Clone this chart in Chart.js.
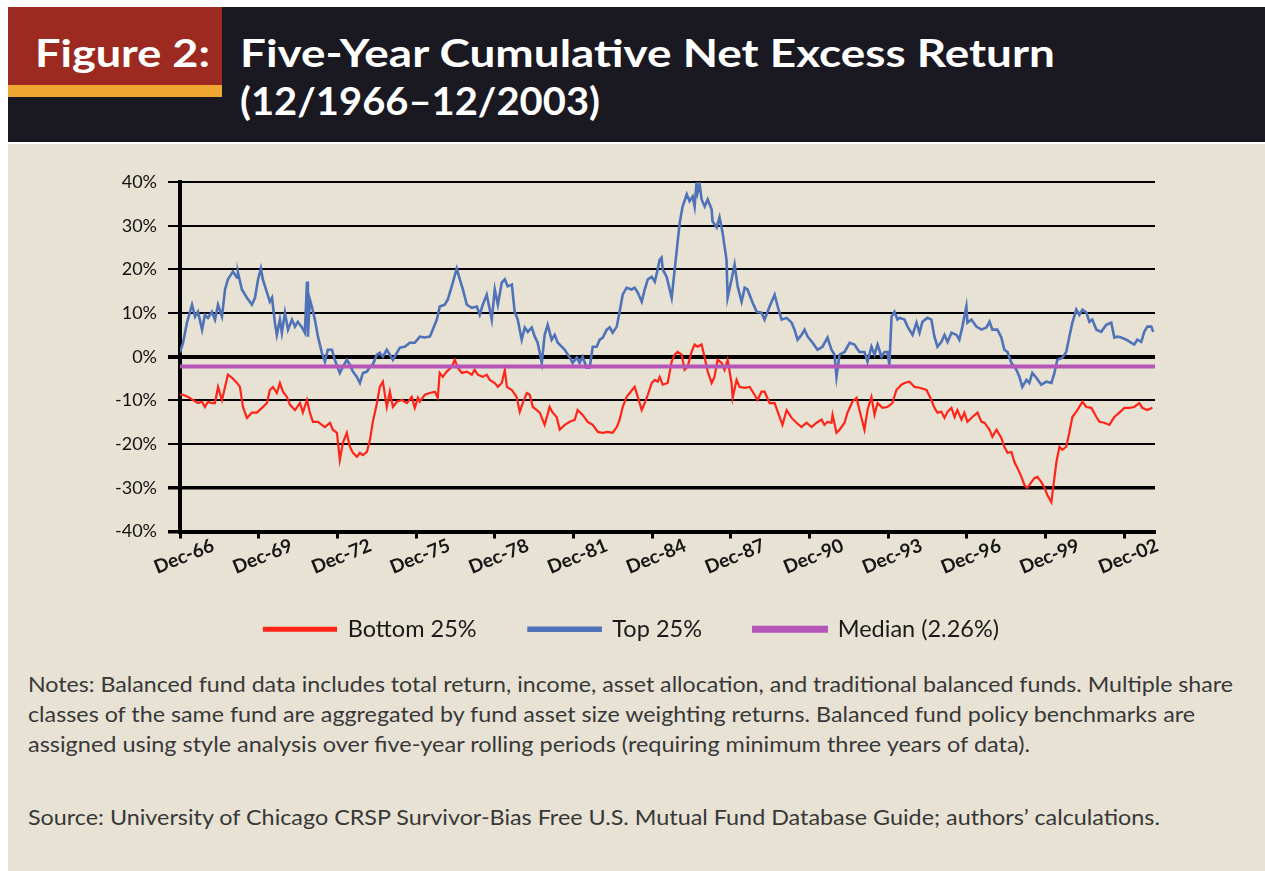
<!DOCTYPE html>
<html>
<head>
<meta charset="utf-8">
<script src="https://cdn.jsdelivr.net/npm/chart.js@4.4.1/dist/chart.umd.min.js"></script>
<style>
  html, body { margin: 0; padding: 0; background: #ffffff; }
  body { width: 1265px; height: 871px; position: relative; overflow: hidden; font-family: Lato, "Open Sans", sans-serif; }
  #bg { position: absolute; left: 8px; top: 144px; width: 1257px; height: 727px; background: rgb(231,226,212); }
  #bar { position: absolute; left: 8px; top: 7px; width: 1257px; height: 135px; background: rgb(26,24,32); }
  #redbox { position: absolute; left: 8px; top: 7px; width: 214px; height: 78px; background: #9c2a20; }
  #orange { position: absolute; left: 8px; top: 85px; width: 214px; height: 12px; background: #f0a832; }
  .t { position: absolute; white-space: nowrap; transform-origin: 0 0; }
  .title { color: #fff; font-weight: 700; font-size: 38px; line-height: 38px; }
  .note { color: #383838; font-size: 21px; line-height: 21px; }
  #chartwrap { position: absolute; left: 0; top: 150px; width: 1265px; height: 501px; }
</style>
</head>
<body>
<div id="bg"></div>
<div id="bar"></div>
<div id="redbox"></div>
<div id="orange"></div>
<div class="t title" style="left:35px; top:33px;" data-w="175">Figure 2:</div>
<div class="t title" style="left:240px; top:33px;" data-w="815">Five-Year Cumulative Net Excess Return</div>
<div class="t title" style="left:240px; top:81px;" data-w="360">(12/1966–12/2003)</div>

<div id="chartwrap"><canvas id="c" width="1265" height="501"></canvas></div>

<div class="t note" style="left:28px; top:673px;" data-w="1205">Notes: Balanced fund data includes total return, income, asset allocation, and traditional balanced funds. Multiple share</div>
<div class="t note" style="left:28px; top:703px;" data-w="1167">classes of the same fund are aggregated by fund asset size weighting returns. Balanced fund policy benchmarks are</div>
<div class="t note" style="left:28px; top:733px;" data-w="1002">assigned using style analysis over five-year rolling periods (requiring minimum three years of data).</div>
<div class="t note" style="left:28px; top:806px;" data-w="1132">Source: University of Chicago CRSP Survivor-Bias Free U.S. Mutual Fund Database Guide; authors’ calculations.</div>

<script>
// ---- Data (months since Dec-1966, values in %) ----
const topMonths = [0,1.4,3.2,5.5,6.9,8.2,10.1,11.4,12.8,14.6,16.0,17.4,19.2,20.6,21.9,24.2,26.1,26.5,28.3,30.6,32.9,34.3,35.7,37.0,37.9,39.8,41.1,42.1,43.4,44.3,45.7,46.6,48.0,49.4,51.2,52.6,53.9,55.8,57.1,58.1,58.5,59.4,60.3,61.7,63.1,64.9,66.3,67.6,69.5,70.8,73.1,74.5,76.3,77.7,79.1,80.9,82.3,83.7,85.5,86.9,88.2,90.1,91.4,92.8,94.6,96.0,97.4,99.2,100.6,102.8,105.1,107.4,109.7,112.0,114.3,115.6,117.5,118.8,121.1,122.5,124.3,126.6,128.0,129.4,131.2,133.5,135.8,137.1,138.5,140.3,141.7,142.6,144.0,145.4,147.2,148.6,149.9,151.8,153.1,154.5,156.3,157.7,159.1,160.9,162.3,163.6,165.5,166.8,168.2,170.0,171.4,172.8,174.6,176.0,178.3,179.6,181.5,182.8,184.2,186.0,187.4,188.8,190.6,192.0,193.4,195.2,196.6,197.9,199.8,201.1,202.5,204.3,206.6,208.0,209.4,211.2,212.6,214.0,215.8,217.2,218.5,219.4,220.3,220.8,222.6,224.9,226.3,227.6,228.6,229.9,231.8,233.1,234.5,235.4,236.3,236.8,237.7,238.6,240.0,241.4,243.2,243.6,245.5,246.8,248.2,250.0,250.5,252.3,253.7,255.1,256.9,258.3,259.6,261.9,263.8,266.0,267.4,269.7,272.0,273.4,275.2,277.5,279.8,281.1,282.5,284.3,285.7,287.1,289.4,291.6,293.9,296.2,298.0,299.4,300.3,301.7,304.0,306.3,308.5,310.8,313.1,314.5,316.3,317.7,319.1,320.9,322.3,323.6,324.5,325.5,326.8,328.2,329.1,331.4,332.8,335.1,336.9,338.3,339.6,341.9,343.7,345.1,346.5,348.3,349.7,351.1,352.9,355.2,356.5,357.9,359.7,360.2,362.0,364.3,366.6,368.9,370.3,371.6,373.9,375.7,377.1,378.5,380.3,382.6,384.0,385.3,387.2,388.5,389.9,391.7,394.0,396.3,398.6,400.0,401.3,403.6,405.4,406.8,408.2,410.0,411.4,412.8,414.6,416.0,417.3,419.2,421.4,423.7,426.0,427.4,428.8,430.6,432.9,435.2,436.5,437.9,439.7,441.1,442.5,444.3,445.2];
const topValues = [1.0,3.2,7.8,11.9,9.2,10.3,6.2,9.6,8.9,10.3,8.5,11.9,9.2,15.4,17.7,19.5,18.1,19.3,15.4,13.5,11.9,13.5,17.7,20.2,17.7,14.7,12.6,13.5,7.8,5.0,8.5,5.5,10.1,6.2,8.5,6.9,8.0,6.7,5.5,17.2,4.6,13.1,11.5,8.5,4.6,0.9,-1.1,1.6,1.6,-0.7,-3.7,-2.3,-0.7,-1.8,-3.4,-4.6,-6.0,-3.7,-3.4,-2.3,-1.8,0.5,0.9,0,1.6,0.5,-0.7,0.9,2.1,2.3,3.2,3.2,4.6,4.4,4.6,6.2,8.5,11.5,11.9,13.1,16.1,20.2,17.7,15.4,11.9,11.2,11.5,9.6,11.9,14.2,10.8,8.5,15.4,11.9,17.0,17.7,16.1,16.5,10.3,8.5,3.9,6.7,5.7,6.7,4.6,3.2,-1.4,5.0,7.3,3.9,5.0,3.2,2.3,1.6,-0.2,-1.4,-0.2,-1.4,0,-2.5,-2.5,2.3,2.3,3.9,4.4,6.2,6.7,5.5,6.9,10.3,14.2,15.8,15.4,15.8,14.7,12.6,15.4,17.7,18.3,17.2,20.0,22.2,22.7,20.0,18.3,13.5,20.0,26.1,30.7,34.4,37.2,35.6,36.7,34.4,39.9,37.6,39.4,36.0,34.4,36.0,33.7,31.0,29.6,31.9,28.4,22.2,13.5,17.7,21.1,16.1,12.6,15.8,15.4,12.4,10.3,10.1,8.5,11.5,14.2,11.5,8.5,8.9,7.8,6.2,3.9,5.0,6.2,4.6,3.2,1.6,2.3,4.4,1.6,0.5,-4.6,0.5,1.1,3.2,2.8,1.1,1.1,-1.1,2.3,0.5,2.8,0,1.1,1.1,-1.8,9.2,10.3,8.5,8.9,8.5,6.9,5.0,7.8,5.5,8.0,8.9,8.5,4.6,2.3,3.4,5.0,3.4,5.5,5.0,3.9,6.9,11.5,7.8,8.5,6.9,6.2,6.7,8.0,6.2,6.2,4.4,1.6,1.1,-1.4,-3.0,-4.6,-6.9,-5.3,-6.0,-3.7,-4.8,-6.4,-5.7,-6.0,-3.7,-0.7,-0.2,1.1,4.6,7.8,10.8,9.6,10.8,10.1,8.0,8.5,6.2,5.7,7.3,7.8,4.4,4.6,4.4,3.9,3.2,2.8,3.9,3.4,5.7,6.9,6.9,5.7];

const bottomMonths = [0,1.4,3.7,5.9,8.2,10.1,11.4,12.8,14.6,16.0,17.4,19.2,20.6,21.9,23.8,26.1,27.4,28.8,30.6,32.9,35.2,37.5,39.8,41.1,42.5,44.3,45.7,47.1,48.9,50.3,52.6,54.9,56.2,58.1,59.4,60.8,63.1,64.9,66.3,68.6,69.9,71.8,73.1,74.5,76.3,77.7,79.1,80.9,82.3,83.7,85.5,86.9,88.2,90.1,91.4,92.8,94.6,96.0,97.4,99.2,101.5,103.8,106.0,107.4,108.8,109.7,112.0,114.3,116.6,117.9,118.8,120.2,122.0,124.3,125.7,127.1,128.9,131.2,133.5,134.8,136.2,138.5,140.3,141.7,144.0,145.4,147.2,148.6,149.5,151.8,154.0,155.4,156.8,158.6,160.0,161.4,163.2,164.6,166.8,169.1,170.5,172.3,173.7,176.0,178.3,180.6,181.9,184.2,186.5,188.8,191.1,193.4,195.6,197.9,199.8,201.1,202.5,204.3,205.7,208.0,209.4,211.2,212.6,214.0,215.8,217.2,218.5,219.4,220.8,223.1,224.9,226.3,227.6,229.5,230.8,232.2,234.0,235.4,236.8,238.6,240.0,241.4,243.2,244.5,245.9,247.8,249.1,250.5,252.3,252.8,254.6,256.0,258.3,260.6,262.8,264.2,266.0,267.4,269.7,272.0,274.3,275.6,277.5,279.8,282.0,284.3,286.6,288.9,291.2,293.5,294.8,296.2,298.0,298.5,300.3,301.7,304.0,305.3,307.6,309.5,310.8,313.1,314.5,316.3,317.7,319.1,321.3,323.6,325.9,327.7,330.0,331.4,333.7,336.0,338.3,341.5,343.7,345.1,346.5,348.3,349.7,351.1,352.9,354.3,355.6,357.5,358.8,360.2,362.5,364.8,366.6,368.0,370.3,371.6,373.5,375.7,377.1,378.5,380.3,381.7,383.1,384.9,386.3,387.6,389.5,390.8,392.2,394.0,395.4,396.8,398.6,399.1,400.9,402.3,403.6,405.4,406.8,408.2,410.5,412.8,414.6,416.9,419.2,420.6,422.8,425.1,427.4,429.7,432.0,434.3,436.5,438.8,440.2,442.5,444.8];
const bottomValues = [-8.7,-8.7,-9.2,-9.9,-10.6,-10.3,-11.5,-10.3,-10.6,-10.6,-6.9,-9.9,-6.9,-4.1,-4.8,-6.0,-6.9,-11.5,-14.0,-12.8,-12.8,-11.7,-10.6,-7.6,-6.9,-8.3,-6.0,-8.0,-9.2,-11.0,-12.2,-10.6,-12.8,-9.9,-12.8,-14.9,-14.9,-15.6,-16.1,-15.1,-16.7,-17.4,-23.6,-19.7,-17.4,-20.6,-22.0,-22.9,-22.0,-22.5,-21.8,-19.0,-14.9,-10.6,-6.9,-5.7,-11.5,-8.0,-11.5,-10.3,-9.9,-10.6,-9.2,-11.7,-9.4,-10.3,-8.7,-8.3,-8.0,-9.4,-3.7,-4.6,-3.4,-2.3,-0.7,-2.5,-3.7,-3.4,-4.1,-3.0,-4.1,-4.6,-4.1,-5.3,-6.0,-6.9,-6.0,-3.0,-6.9,-7.6,-9.2,-12.6,-10.6,-8.3,-8.7,-11.5,-12.2,-12.8,-15.6,-11.5,-12.8,-13.8,-16.7,-15.6,-14.9,-14.4,-12.2,-13.3,-14.9,-15.6,-17.2,-17.4,-17.2,-17.4,-16.1,-14.4,-11.5,-9.2,-8.3,-6.9,-9.2,-12.2,-10.6,-8.7,-6.0,-5.3,-5.7,-4.6,-6.4,-6.0,-1.1,0.5,1.1,0.5,-3.0,-2.3,1.1,2.8,2.3,2.8,-0.2,-3.4,-6.0,-4.6,-0.7,-1.4,-3.0,-0.7,-6.0,-9.4,-5.3,-6.9,-7.1,-6.9,-8.7,-9.9,-8.0,-8.0,-10.6,-10.6,-13.8,-15.6,-12.2,-14.0,-15.1,-16.1,-15.1,-16.1,-15.1,-14.4,-15.6,-14.9,-15.1,-13.3,-17.4,-16.7,-15.1,-12.8,-10.3,-9.4,-12.2,-16.7,-12.2,-9.2,-13.3,-10.6,-11.7,-11.5,-10.6,-7.6,-6.4,-6.0,-5.7,-6.9,-7.1,-7.6,-9.9,-11.7,-12.8,-12.6,-14.0,-12.6,-11.7,-13.8,-12.2,-14.4,-12.8,-14.9,-13.8,-12.8,-14.9,-15.1,-16.7,-18.3,-16.7,-18.6,-20.6,-22.0,-21.8,-24.1,-25.5,-27.5,-29.4,-30.0,-28.7,-27.8,-27.5,-28.7,-30.0,-31.7,-33.3,-31.2,-24.1,-20.6,-21.3,-20.6,-17.4,-13.8,-12.2,-10.3,-11.5,-11.7,-13.8,-14.9,-15.1,-15.6,-13.8,-12.8,-11.7,-11.7,-11.5,-10.6,-11.7,-12.2,-11.7];

const medianValue = -2.26;
const seriesNames = ['Bottom 25%', 'Top 25%', 'Median (2.26%)'];
const xTickMonths = [0,36,72,108,144,180,216,252,288,324,360,396,432];
const xTickLabels = ['Dec-66','Dec-69','Dec-72','Dec-75','Dec-78','Dec-81','Dec-84','Dec-87','Dec-90','Dec-93','Dec-96','Dec-99','Dec-02'];
const yTickValues = [-40,-30,-20,-10,0,10,20,30,40];
const xMin = 0, xMax = 446;

// ---- fit HTML text widths ----
document.querySelectorAll('[data-w]').forEach(el => {
  const target = parseFloat(el.dataset.w);
  const w = el.getBoundingClientRect().width;
  if (w > 0) el.style.transform = 'scaleX(' + (target / w) + ')';
});

const toPoints = (ms, vs) => ms.map((m, i) => ({ x: m, y: vs[i] }));

const xLabelPlugin = {
  id: 'xLabels',
  afterDraw(chart) {
    const s = chart.scales.x, ctx = chart.ctx;
    ctx.save();
    ctx.font = 'bold 19px Lato';
    ctx.fillStyle = '#161616';
    ctx.textAlign = 'center';
    ctx.textBaseline = 'middle';
    xTickMonths.forEach((m, i) => {
      const px = s.getPixelForValue(m);
      ctx.save();
      ctx.translate(px + 4, s.top + 25);
      ctx.rotate(-22 * Math.PI / 180);
      ctx.fillText(xTickLabels[i], 0, 0);
      ctx.restore();
    });
    ctx.restore();
  }
};

new Chart(document.getElementById('c'), {
  type: 'line',
  data: {
    datasets: [
      { label: seriesNames[0], data: toPoints(bottomMonths, bottomValues), borderColor: '#ff2418', backgroundColor: '#ff2418', borderWidth: 2.2, pointRadius: 0, tension: 0, order: 1 },
      { label: seriesNames[1], data: toPoints(topMonths, topValues), borderColor: '#4f72b8', backgroundColor: '#4f72b8', borderWidth: 2.6, pointRadius: 0, tension: 0, order: 2 },
      { label: seriesNames[2], data: [{ x: xMin, y: medianValue }, { x: xMax, y: medianValue }], borderColor: '#b655b8', backgroundColor: '#b655b8', borderWidth: 4, pointRadius: 0, tension: 0, order: 0 }
    ]
  },
  options: {
    responsive: false,
    animation: false,
    devicePixelRatio: 1,
    layout: { padding: { top: 32, left: 108, right: 110, bottom: 0 } },
    scales: {
      x: {
        type: 'linear', min: xMin, max: xMax,
        afterBuildTicks: (s) => { s.ticks = xTickMonths.map(v => ({ value: v })); },
        afterFit: (s) => { s.height = 34; },
        ticks: { display: false },
        grid: { display: true, drawOnChartArea: false, drawTicks: true, tickLength: 7, tickWidth: 3, tickColor: '#000', color: '#000' },
        border: { display: true, color: '#000', width: 4 }
      },
      y: {
        type: 'linear', min: -40, max: 40,
        afterBuildTicks: (s) => { s.ticks = yTickValues.map(v => ({ value: v })); },
        afterFit: (s) => { s.width = 72; },
        ticks: { callback: (v) => v + '%', font: { family: 'Lato', size: 18 }, color: '#111', padding: 11 },
        grid: {
          color: '#000', drawTicks: true, tickLength: 12,
          lineWidth: (c) => (c.tick && c.tick.value === 0) ? 4 : (c.tick && (c.tick.value === -30 || c.tick.value === -40)) ? 3.5 : 2
        },
        border: { display: true, color: '#000', width: 4 }
      }
    },
    plugins: {
      tooltip: { enabled: false },
      legend: {
        position: 'bottom',
        labels: {
          boxWidth: 72, boxHeight: 3, padding: 52,
          font: { family: 'Lato', size: 23.5 }, color: '#1a1a1a',
          sort: (a, b) => a.datasetIndex - b.datasetIndex
        }
      }
    }
  },
  plugins: [xLabelPlugin]
});
</script>
</body>
</html>
